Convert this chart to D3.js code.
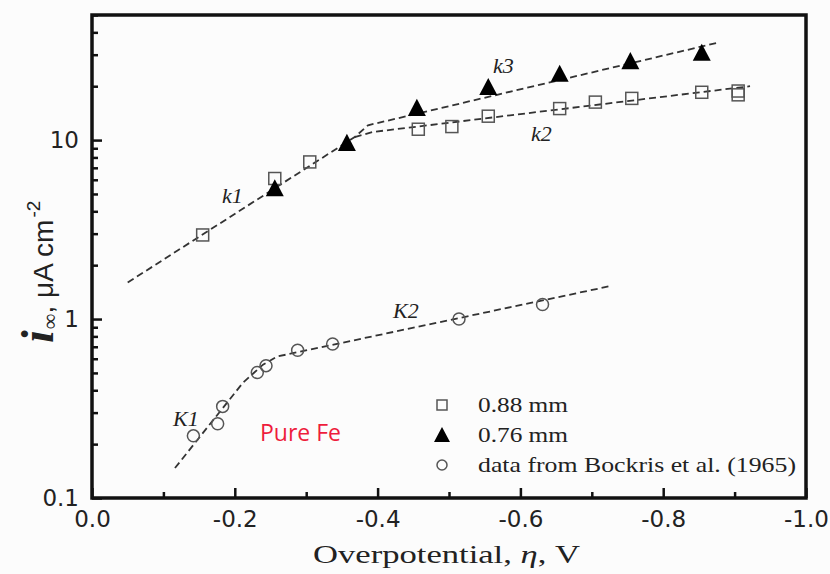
<!DOCTYPE html>
<html>
<head>
<meta charset="utf-8">
<script src="https://cdn.jsdelivr.net/npm/d3@7"></script>
<style>
  html, body { margin: 0; padding: 0; background: #fcfcfc; }
  svg { display: block; }
</style>
</head>
<body>
<svg id="chart" width="830" height="574"></svg>
<script>
// Current density vs overpotential for pure Fe (log scale)

// 0.88 mm sample
const sqEta = [-0.155, -0.256, -0.305, -0.457, -0.504, -0.555, -0.655, -0.705, -0.756, -0.854, -0.905, -0.905];
const sqI   = [2.95, 6.1, 7.55, 11.5, 11.9, 13.6, 15.0, 16.3, 17.1, 18.5, 18.8, 17.9];

// 0.76 mm sample
const triEta = [-0.256, -0.357, -0.455, -0.555, -0.655, -0.754, -0.854];
const triI   = [5.3, 9.5, 14.9, 19.5, 23.1, 27.2, 30.3];

// Bockris et al. (1965)
const cirEta = [-0.142, -0.176, -0.183, -0.2315, -0.2437, -0.288, -0.337, -0.514, -0.631];
const cirI   = [0.2225, 0.26, 0.325, 0.503, 0.549, 0.669, 0.726, 1.0, 1.205];

// fitted slopes (dashed guides)
const fitK1K3Eta = [-0.05, -0.368, -0.3866, -0.875];
const fitK1K3I   = [1.6, 10.4, 12.1, 34.9];
const fitK2Eta   = [-0.368, -0.3936, -0.9216];
const fitK2I     = [10.4, 11.1, 20.0];
const fitBEta    = [-0.1162, -0.2115, -0.2395, -0.259, -0.7255];
const fitBI      = [0.147, 0.441, 0.556, 0.617, 1.527];

// axis ticks
const xMajor = [0, -0.2, -0.4, -0.6, -0.8, -1.0];
const xMinor = [-0.1, -0.3, -0.5, -0.7, -0.9];
const yMajor = [0.1, 1, 10];
const yMinor = [0.2,0.3,0.4,0.5,0.6,0.7,0.8,0.9, 2,3,4,5,6,7,8,9, 20,30,40,50];

const legendLabels = ["0.88 mm", "0.76 mm", "data from Bockris et al. (1965)"];

const svg = d3.select("#chart");
const L = 92, R = 806, T = 15, B = 498;

const x = d3.scaleLinear().domain([0, -1]).range([L, R]);
const y = d3.scaleLog().domain([0.1, 50]).range([B, T]);

// plain hyphen for negative numbers
const fmtX = d => d === 0 ? "0.0" : "-" + Math.abs(d).toFixed(1);

// axes (ticks inward)
svg.append("g").attr("transform", `translate(0,${B})`)
  .call(d3.axisBottom(x).tickValues(xMajor).tickSize(-10).tickPadding(13).tickFormat(fmtX));
svg.append("g").attr("transform", `translate(0,${B})`)
  .call(d3.axisBottom(x).tickValues(xMinor).tickSize(-6).tickFormat(""));
svg.append("g").attr("transform", `translate(${L},0)`)
  .call(d3.axisLeft(y).tickValues(yMajor).tickSize(-10).tickPadding(13)
    .tickFormat(d => String(d)));
svg.append("g").attr("transform", `translate(${L},0)`)
  .call(d3.axisLeft(y).tickValues(yMinor).tickSize(-6).tickFormat(""));

svg.selectAll(".domain").remove();
svg.selectAll(".tick line").attr("stroke", "#111").attr("stroke-width", 2.5);
svg.selectAll(".tick text")
  .attr("font-family", "'DejaVu Sans', sans-serif")
  .attr("font-size", 23)
  .attr("fill", "#222");

// frame
svg.append("rect")
  .attr("x", L).attr("y", T).attr("width", R - L).attr("height", B - T)
  .attr("fill", "none").attr("stroke", "#111").attr("stroke-width", 3.5);

// dashed fits
const line = d3.line().x(d => x(d[0])).y(d => y(d[1]));
function fit(etas, vals) {
  svg.append("path")
    .datum(etas.map((e, i) => [e, vals[i]]))
    .attr("d", line)
    .attr("fill", "none")
    .attr("stroke", "#333")
    .attr("stroke-width", 1.8)
    .attr("stroke-dasharray", "7,4");
}
fit(fitK1K3Eta, fitK1K3I);
fit(fitK2Eta, fitK2I);
fit(fitBEta, fitBI);

// markers
function square(g, cx, cy, s) {
  g.append("rect").attr("x", cx - s / 2).attr("y", cy - s / 2)
    .attr("width", s).attr("height", s)
    .attr("fill", "none").attr("stroke", "#555").attr("stroke-width", 1.5);
}
function triangle(g, cx, cy, w) {
  const h = w * 0.95;
  g.append("path")
    .attr("d", `M${cx},${cy - h * 0.6}L${cx + w / 2},${cy + h * 0.4}L${cx - w / 2},${cy + h * 0.4}Z`)
    .attr("fill", "#000");
}
function circle(g, cx, cy, r) {
  g.append("circle").attr("cx", cx).attr("cy", cy).attr("r", r)
    .attr("fill", "none").attr("stroke", "#555").attr("stroke-width", 1.5);
}

const marks = svg.append("g");
sqEta.forEach((e, i) => square(marks, x(e), y(sqI[i]), 12));
triEta.forEach((e, i) => triangle(marks, x(e), y(triI[i]), 18));
cirEta.forEach((e, i) => circle(marks, x(e), y(cirI[i]), 6));

// slope labels
const serif = "'Liberation Serif', 'Times New Roman', serif";
[["k1", 222, 203], ["k3", 493, 73], ["k2", 531, 141], ["K1", 173, 426], ["K2", 393, 318]]
  .forEach(([t, tx, ty]) => {
    svg.append("text").attr("x", tx).attr("y", ty).text(t)
      .attr("font-family", serif).attr("font-style", "italic")
      .attr("font-size", 22).attr("fill", "#222");
  });

// sample label
svg.append("text").attr("x", 260).attr("y", 441).text("Pure Fe")
  .attr("font-family", "'Open Sans', sans-serif").attr("font-size", 23)
  .attr("fill", "#ee1c3c");

// legend
const lg = svg.append("g");
const rowY = [405, 435, 465];
square(lg, 442, rowY[0], 10);
triangle(lg, 442, rowY[1] + 1, 16);
circle(lg, 442, rowY[2], 5);
const legendW = [90, 90, 318];
legendLabels.forEach((t, i) => {
  lg.append("text").attr("x", 478).attr("y", rowY[i] + 7).text(t)
    .attr("font-family", serif).attr("font-size", 22).attr("fill", "#222")
    .attr("textLength", legendW[i]).attr("lengthAdjust", "spacingAndGlyphs");
});

// x title
const xt = svg.append("text").attr("x", 313).attr("y", 563)
  .attr("font-family", serif).attr("font-size", 26).attr("fill", "#222")
  .attr("textLength", 267).attr("lengthAdjust", "spacingAndGlyphs");
xt.append("tspan").text("Overpotential, ");
xt.append("tspan").attr("font-style", "italic").text("η");
xt.append("tspan").text(", V");

// y title, written upward from the bottom
const sans = "'Liberation Sans', Arial, sans-serif";
const yt = svg.append("text")
  .attr("transform", "translate(53,343) rotate(-90)")
  .attr("text-anchor", "start")
  .attr("fill", "#222");
yt.append("tspan").attr("font-family", serif).attr("font-style", "italic")
  .attr("font-weight", "bold").attr("font-size", 46).text("i");
yt.append("tspan").attr("font-family", serif).attr("font-size", 22)
  .attr("dx", 1).attr("dy", 4).text("∞");
yt.append("tspan").attr("font-family", sans)
  .attr("font-size", 28).attr("dy", -4).text(", μA cm");
yt.append("tspan").attr("font-family", sans)
  .attr("font-size", 19).attr("dx", 2).attr("dy", -13).text("-2");
</script>
</body>
</html>
